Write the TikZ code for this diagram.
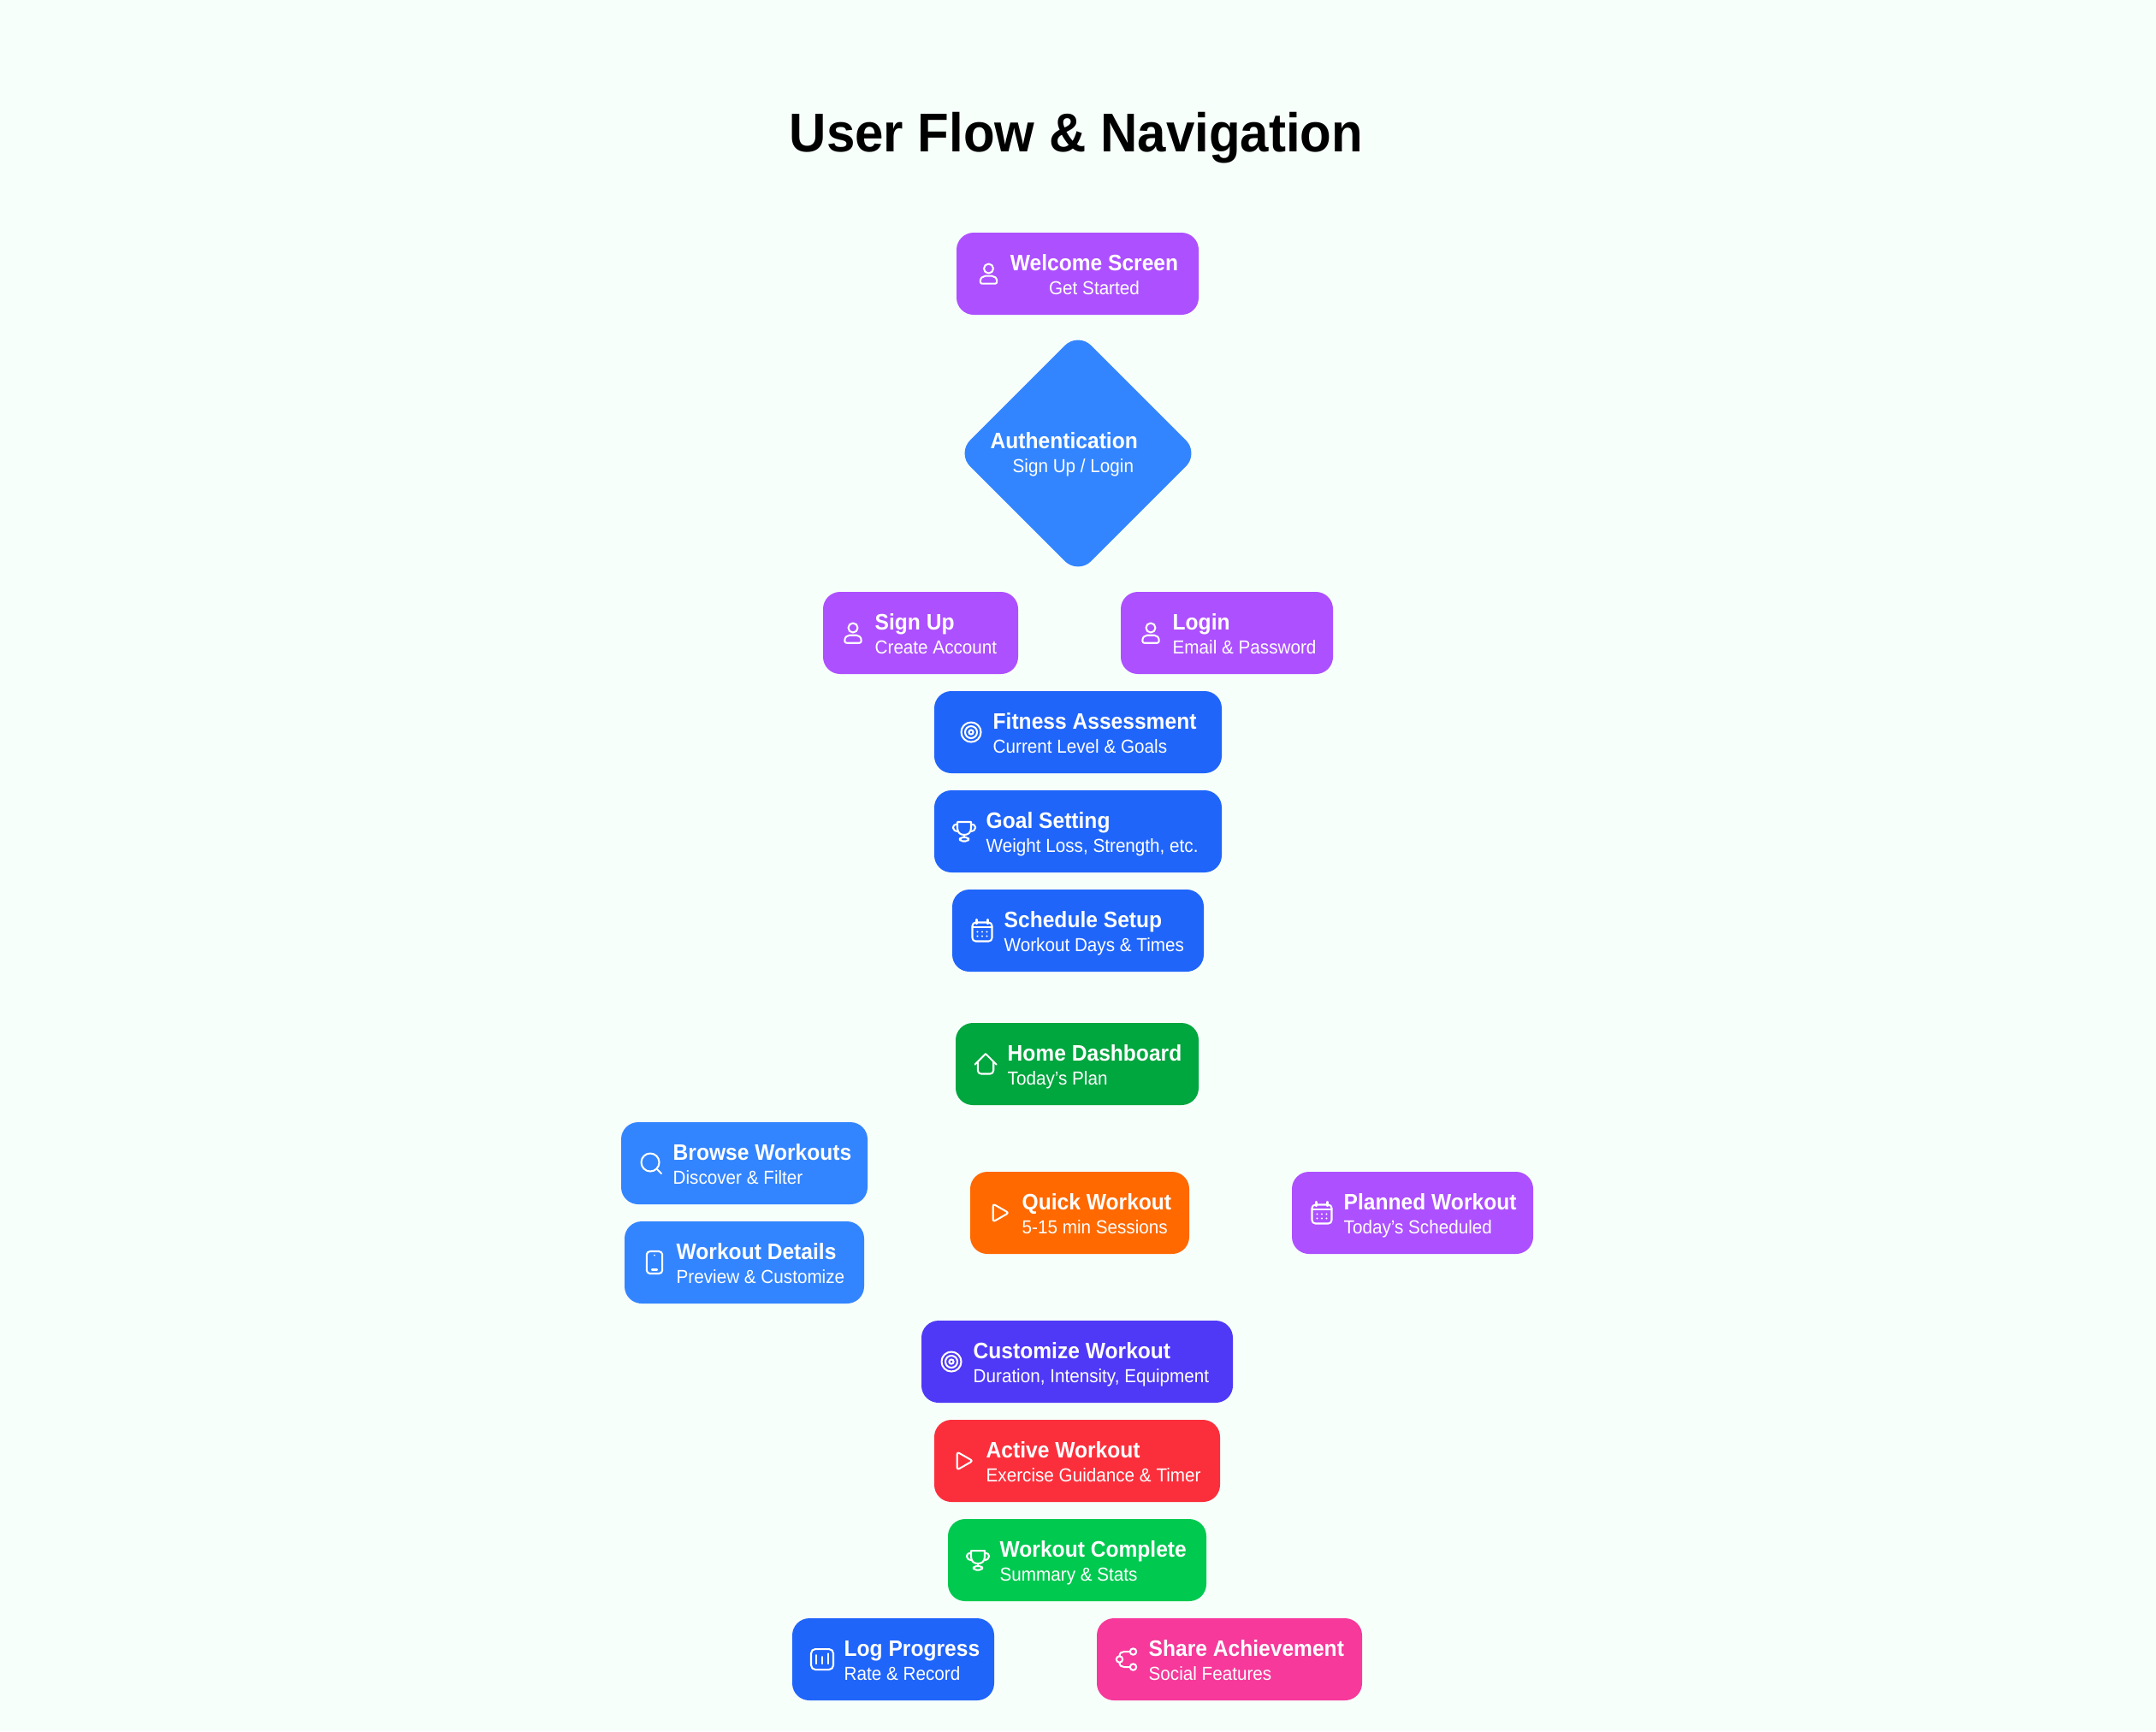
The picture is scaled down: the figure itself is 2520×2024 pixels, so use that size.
\documentclass[tikz,border=0pt]{standalone}
\usepackage{fontspec}
\setmainfont[FakeStretch=0.94]{Liberation Sans}
\definecolor{bgmint}{HTML}{F7FFFB}
\definecolor{cpurple}{HTML}{AD50FF}
\definecolor{csky}{HTML}{3385FF}
\definecolor{cblue}{HTML}{2065FA}
\definecolor{cgreen}{HTML}{00A63E}
\definecolor{clime}{HTML}{00C950}
\definecolor{corange}{HTML}{FF6900}
\definecolor{cindigo}{HTML}{4F39F6}
\definecolor{cred}{HTML}{FB2F3C}
\definecolor{cpink}{HTML}{F6399A}
\tikzset{
	flowbox/.style={rounded corners=6pt, inner sep=0pt, minimum height=28.8pt},
	ttl/.style={text=white, inner sep=0pt, font=\fontsize{7.85}{10}\selectfont\bfseries},
	sub/.style={text=white, inner sep=0pt, font=\fontsize{6.6}{9}\selectfont},
	ico/.style={draw=white, line width=0.62pt, line join=round, line cap=round},
	pics/person/.style={code={
		\draw[ico] (0,-6) circle (5.5);
		\draw[ico] (-7.5,11.7) -- (7.5,11.7) .. controls (9,11.7) and (9.7,10.7) .. (9.7,9) .. controls (9.7,5) and (7,2.7) .. (4,2.7) -- (-4,2.7) .. controls (-7,2.7) and (-9.7,5) .. (-9.7,9) .. controls (-9.7,10.7) and (-9,11.7) .. (-7.5,11.7) -- cycle;
	}},
	pics/target/.style={code={
		\draw[ico] (0,0) circle (11.5);
		\draw[ico] (0,0) circle (7);
		\draw[ico] (0,0) circle (2.6);
	}},
	pics/trophy/.style={code={
		\draw[ico] (-8,-11) -- (8,-11) -- (8,-4) .. controls (8,2) and (4,4) .. (0,4) .. controls (-4,4) and (-8,2) .. (-8,-4) -- cycle;
		\draw[ico] (-8,-8) .. controls (-15,-9) and (-15,0) .. (-7,0);
		\draw[ico] (8,-8) .. controls (15,-9) and (15,0) .. (7,0);
		\draw[ico] (0,4) -- (0,7);
		\draw[ico, rounded corners=1pt] (-5,7) rectangle (5,11.5);
	}},
	pics/calendar/.style={code={
		\draw[ico, rounded corners=1.2pt] (-11.5,-9.5) rectangle (11.5,12.5);
		\draw[ico] (-6.5,-13) -- (-6.5,-8);
		\draw[ico] (6.5,-13) -- (6.5,-8);
		\draw[ico] (-11.5,-4) -- (11.5,-4);
		\foreach \dx in {-5.5,0,5.5} \foreach \dy in {1.5,6.5}
			\fill[white] (\dx,\dy) circle (1.1);
	}},
	pics/home/.style={code={
		\draw[ico] (-12.5,0.5) -- (0,-12) -- (12.5,0.5);
		\draw[ico, rounded corners=1.2pt] (-9.2,-3) -- (-9.2,11.5) -- (9.2,11.5) -- (9.2,-3);
	}},
	pics/search/.style={code={
		\draw[ico] (-1,-1) circle (10.5);
		\draw[ico] (7,7) -- (12,12);
	}},
	pics/phone/.style={code={
		\draw[ico, rounded corners=1.2pt] (-9.2,-13) rectangle (9.2,13);
		\fill[white] (0,-8.5) circle (1);
		\draw[ico] (-3,8.5) -- (3,8.5);
	}},
	pics/play/.style={code={
		\draw[ico, rounded corners=0.8pt] (-8.3,-10.5) -- (10,0) -- (-8.3,10.5) -- cycle;
	}},
	pics/bars/.style={code={
		\draw[ico, rounded corners=1.5pt] (-13,-12) rectangle (13,12);
		\draw[ico] (-6.7,-5) -- (-6.7,5);
		\draw[ico] (0.3,-3) -- (0.3,5);
		\draw[ico] (7,-6.7) -- (7,5);
	}},
	pics/sharing/.style={code={
		\draw[ico] (7.5,-9) circle (3.7);
		\draw[ico] (-8.5,0) circle (3.7);
		\draw[ico] (7.5,9) circle (3.7);
		\draw[ico] (-8.5,-3.7) .. controls (-8.5,-7.5) and (-6,-9) .. (-3,-9) -- (3.8,-9);
		\draw[ico] (-8.5,3.7) .. controls (-8.5,7.5) and (-6,9) .. (-3,9) -- (3.8,9);
	}},
}
\begin{document}
\begin{tikzpicture}[x=0.3pt, y=-0.3pt, line join=round]
	\useasboundingbox[fill=bgmint] (0,0) rectangle (2520,2024);
	\node[anchor=base, inner sep=0pt, font=\fontsize{19.15}{24}\selectfont\bfseries] (title) at (1258,177) {User Flow \& Navigation};
	% Welcome and Authentication have centred text
	\node[flowbox, fill=cpurple, minimum width=84.9pt] (welcome) at (1259.5,320) {};
	\pic at (1155.5,320) {person};
	\node[ttl, anchor=base] (welcome-t) at (1279,316) {Welcome Screen};
	\node[sub, anchor=base] (welcome-s) at (1279,344) {Get Started};
	\node[rotate=45, fill=csky, rounded corners=6.5pt, inner sep=0pt, minimum width=60pt, minimum height=60pt] (auth) at (1260,530) {};
	\node[ttl, anchor=base west] (auth-t) at (1157,524) {Authentication};
	\node[sub, anchor=base west] (auth-s) at (1183,552) {Sign Up / Login};
	% name / left / right / top / colour / text x / icon / title / subtitle
	\foreach \n/\xa/\xb/\yt/\col/\tx/\ic/\ttltext/\subtext in {
		signup/962/1190/692/cpurple/1022/person/{Sign Up}/{Create Account},
		login/1310/1558/692/cpurple/1370/person/{Login}/{Email \& Password},
		fitness/1092/1428/808/cblue/1160/target/{Fitness Assessment}/{Current Level \& Goals},
		goal/1092/1428/924/cblue/1152/trophy/{Goal Setting}/{Weight Loss, Strength, etc.},
		schedule/1113/1407/1040/cblue/1173/calendar/{Schedule Setup}/{Workout Days \& Times},
		dash/1117/1401/1196/cgreen/1177/home/{Home Dashboard}/{Today’s Plan},
		browse/726/1014/1312/csky/786/search/{Browse Workouts}/{Discover \& Filter},
		details/730/1010/1428/csky/790/phone/{Workout Details}/{Preview \& Customize},
		quick/1134/1390/1370/corange/1194/play/{Quick Workout}/{5-15 min Sessions},
		planned/1510/1792/1370/cpurple/1570/calendar/{Planned Workout}/{Today’s Scheduled},
		custom/1077/1441/1544/cindigo/1137/target/{Customize Workout}/{Duration, Intensity, Equipment},
		active/1092/1426/1660/cred/1152/play/{Active Workout}/{Exercise Guidance \& Timer},
		complete/1108/1410/1776/clime/1168/trophy/{Workout Complete}/{Summary \& Stats},
		logprog/926/1162/1892/cblue/986/bars/{Log Progress}/{Rate \& Record},
		share/1282/1592/1892/cpink/1342/sharing/{Share Achievement}/{Social Features}}
	{
		\node[flowbox, fill=\col, minimum width=(\xb-\xa)*0.3pt] (\n) at ({(\xa+\xb)/2},\yt+48) {};
		\pic at (\tx-25,\yt+48) {\ic};
		\node[ttl, anchor=base west] (\n-t) at (\tx,\yt+44) {\ttltext};
		\node[sub, anchor=base west] (\n-s) at (\tx,\yt+72) {\subtext};
	}
\end{tikzpicture}
\end{document}
